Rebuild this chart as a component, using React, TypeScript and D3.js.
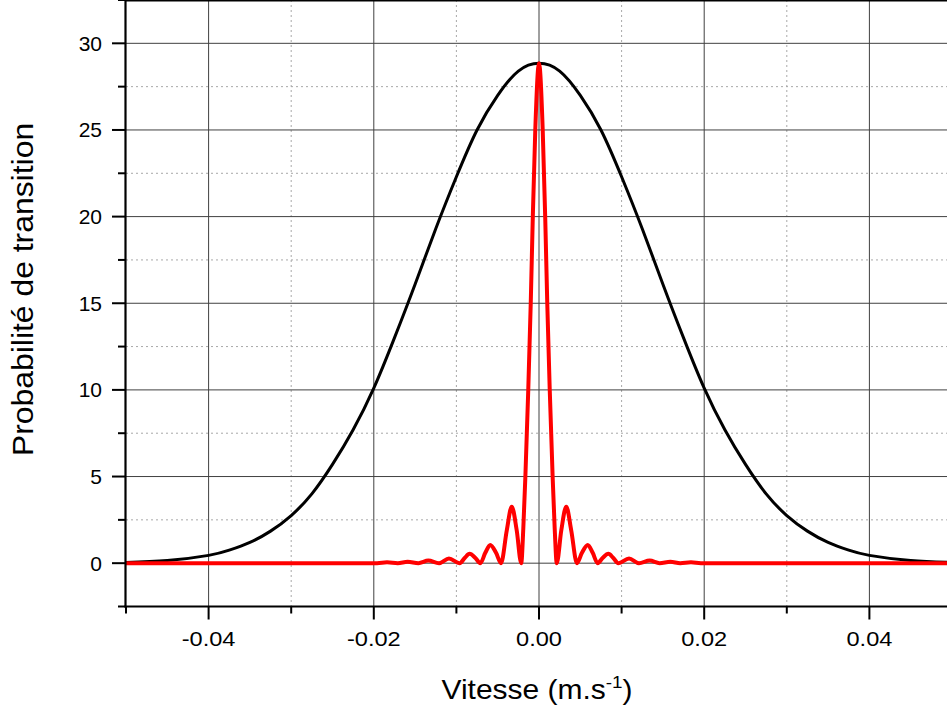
import React from 'react';
import * as d3 from 'd3';

const W = 947;
const H = 713;

// Axis ticks
const xMajorTicks = [-0.04, -0.02, 0, 0.02, 0.04];
const xTickLabels = ['-0.04', '-0.02', '0.00', '0.02', '0.04'];
const xMinorTicks = [-0.05, -0.03, -0.01, 0.01, 0.03, 0.05];
const yMajorTicks = [0, 5, 10, 15, 20, 25, 30];
const yTickLabels = ['0', '5', '10', '15', '20', '25', '30'];
const yMinorTicks = [-2.5, 2.5, 7.5, 12.5, 17.5, 22.5, 27.5, 32.5];

// Black curve (broad profile)
const blackX = [
  -0.05, -0.045, -0.04, -0.0375, -0.035, -0.0325, -0.03, -0.0275, -0.025, -0.0225, -0.02,
  -0.0175, -0.015, -0.0125, -0.01, -0.0075, -0.005, -0.0025, 0,
  0.0025, 0.005, 0.0075, 0.01, 0.0125, 0.015, 0.0175, 0.02, 0.0225, 0.025, 0.0275, 0.03,
  0.0325, 0.035, 0.0375, 0.04, 0.045, 0.05,
];
const blackY = [
  0.04, 0.15, 0.45, 0.75, 1.2, 1.85, 2.75, 4.0, 5.7, 7.7, 10.1,
  13.0, 16.1, 19.3, 22.3, 25.0, 27.0, 28.4, 28.85,
  28.4, 27.0, 25.0, 22.3, 19.3, 16.1, 13.0, 10.1, 7.7, 5.7, 4.0, 2.75,
  1.85, 1.2, 0.75, 0.45, 0.15, 0.04,
];

// Red curve (narrow profile with side lobes)
const redX = [
  -0.05, -0.0196, -0.0184, -0.0171, -0.0159, -0.0146, -0.0134, -0.0121, -0.0109, -0.0096,
  -0.009, -0.0084, -0.0077, -0.0071, -0.0065, -0.0059, -0.0052, -0.0046, -0.0039, -0.0033,
  -0.0027, -0.00215, -0.0019, -0.00165, -0.0013, -0.001, -0.00075, -0.00045, 0,
  0.00045, 0.00075, 0.001, 0.0013, 0.00165, 0.0019, 0.00215, 0.0027, 0.0033, 0.0039,
  0.0046, 0.0052, 0.0059, 0.0065, 0.0071, 0.0077, 0.0084, 0.009, 0.0096, 0.0109,
  0.0121, 0.0134, 0.0146, 0.0159, 0.0171, 0.0184, 0.0196, 0.05,
];
const redY = [
  0, 0, 0.05, 0, 0.08, 0, 0.15, 0, 0.27, 0,
  0.3, 0.54, 0.3, 0, 0.6, 1.05, 0.6, 0, 1.9, 3.26,
  1.9, 0, 2, 5, 10, 15, 20, 25, 28.85,
  25, 20, 15, 10, 5, 2, 0, 1.9, 3.26, 1.9,
  0, 0.6, 1.05, 0.6, 0, 0.3, 0.54, 0.3, 0, 0.27,
  0, 0.15, 0, 0.08, 0, 0.05, 0, 0,
];

const FONT = '"Liberation Sans", Arial, sans-serif';

export default function App() {
  const x = d3.scaleLinear().domain([-0.05, 0.05]).range([126, 952]);
  const y = d3.scaleLinear().domain([-2.5, 32.5]).range([606.5, 0]);

  const xLeft = x(-0.05);
  const yBottom = y(-2.5);

  const blackData = blackX.map((v, i) => [v, blackY[i]] as [number, number]);
  const redData = redX.map((v, i) => [v, redY[i]] as [number, number]);

  const lineBlack = d3
    .line<[number, number]>()
    .x((d) => x(d[0]))
    .y((d) => y(d[1]))
    .curve(d3.curveNatural);
  const lineRed = d3
    .line<[number, number]>()
    .x((d) => x(d[0]))
    .y((d) => y(d[1]))
    .curve(d3.curveMonotoneX);

  return (
    <svg
      width={W}
      height={H}
      style={{ position: 'absolute', left: 0, top: 0, background: '#fff' }}
      fontFamily={FONT}
    >
      <defs>
        <clipPath id="plot">
          <rect x={xLeft} y={0} width={W - xLeft} height={yBottom} />
        </clipPath>
      </defs>
      <rect x={0} y={0} width={W} height={H} fill="#fff" />

      {/* minor grid */}
      {yMinorTicks
        .filter((t) => t > -2.5 && t < 32.5)
        .map((t) => (
          <line
            key={'ymg' + t}
            x1={xLeft}
            x2={W}
            y1={y(t)}
            y2={y(t)}
            stroke="#a8a8a8"
            strokeWidth={1}
            strokeDasharray="2,3"
          />
        ))}
      {xMinorTicks
        .filter((t) => t > -0.05)
        .map((t) => (
          <line
            key={'xmg' + t}
            x1={x(t)}
            x2={x(t)}
            y1={0}
            y2={yBottom}
            stroke="#a8a8a8"
            strokeWidth={1}
            strokeDasharray="2,3"
          />
        ))}

      {/* major grid */}
      {yMajorTicks.map((t) => (
        <line key={'yg' + t} x1={xLeft} x2={W} y1={y(t)} y2={y(t)} stroke="#404040" strokeWidth={1} />
      ))}
      {xMajorTicks.map((t) => (
        <line key={'xg' + t} x1={x(t)} x2={x(t)} y1={0} y2={yBottom} stroke="#404040" strokeWidth={1} />
      ))}

      {/* curves */}
      <g clipPath="url(#plot)">
        <path d={lineBlack(blackData) || ''} fill="none" stroke="#000" strokeWidth={3} />
        <path d={lineRed(redData) || ''} fill="none" stroke="#ff0000" strokeWidth={4} />
      </g>

      {/* frame */}
      <line x1={xLeft} x2={W} y1={0.5} y2={0.5} stroke="#000" strokeWidth={2} />
      <line x1={xLeft - 0.5} x2={xLeft - 0.5} y1={0} y2={yBottom + 1} stroke="#000" strokeWidth={2.2} />
      <line x1={xLeft - 1.5} x2={W} y1={yBottom} y2={yBottom} stroke="#000" strokeWidth={2.2} />

      {/* y ticks */}
      {yMajorTicks.map((t) => (
        <line key={'yt' + t} x1={xLeft - 14} x2={xLeft} y1={y(t)} y2={y(t)} stroke="#000" strokeWidth={2} />
      ))}
      {yMinorTicks.map((t) => (
        <line key={'ymt' + t} x1={xLeft - 8} x2={xLeft} y1={y(t)} y2={y(t)} stroke="#000" strokeWidth={2} />
      ))}
      {yMajorTicks.map((t, i) => (
        <text key={'yl' + t} x={102} y={y(t) + 7.5} fontSize={21} textAnchor="end" fill="#000">
          {yTickLabels[i]}
        </text>
      ))}

      {/* x ticks */}
      {xMajorTicks.map((t) => (
        <line key={'xt' + t} x1={x(t)} x2={x(t)} y1={yBottom} y2={yBottom + 13} stroke="#000" strokeWidth={2} />
      ))}
      {xMinorTicks.map((t) => (
        <line key={'xmt' + t} x1={x(t)} x2={x(t)} y1={yBottom} y2={yBottom + 7} stroke="#000" strokeWidth={2} />
      ))}
      {xMajorTicks.map((t, i) => (
        <g key={'xl' + t} transform={`translate(${x(t)},646) scale(1.18,1)`}>
          <text x={0} y={0} fontSize={20} textAnchor="middle" fill="#000">
            {xTickLabels[i]}
          </text>
        </g>
      ))}

      {/* axis titles */}
      <g transform="translate(537,699) scale(1.11,1)">
        <text x={0} y={0} fontSize={27} textAnchor="middle" fill="#000">
          <tspan>Vitesse (m.s</tspan>
          <tspan fontSize={17} dy={-11}>-1</tspan>
          <tspan fontSize={27} dy={11}>)</tspan>
        </text>
      </g>
      <g transform="translate(33,289.5) rotate(-90) scale(1.1,1)">
        <text x={0} y={0} fontSize={29} textAnchor="middle" fill="#000">
          Probabilité de transition
        </text>
      </g>
    </svg>
  );
}
